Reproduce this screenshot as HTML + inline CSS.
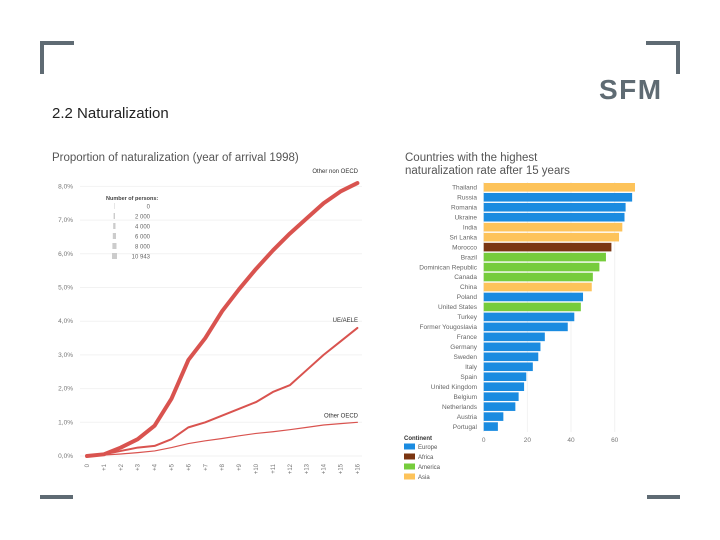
<!DOCTYPE html>
<html><head><meta charset="utf-8"><style>
body{margin:0;background:#fff;font-family:"Liberation Sans",sans-serif}
#w{position:relative;width:720px;height:540px;overflow:hidden}
.b{position:absolute;background:#5f6b73}
</style></head><body><div id="w">
<div class="b" style="left:40px;top:41px;width:34px;height:4px"></div>
<div class="b" style="left:40px;top:41px;width:4px;height:33px"></div>
<div class="b" style="left:646px;top:41px;width:34px;height:4px"></div>
<div class="b" style="left:676px;top:41px;width:4px;height:33px"></div>
<div class="b" style="left:40px;top:495px;width:33px;height:4px"></div>
<div class="b" style="left:647px;top:495px;width:33px;height:4px"></div>
<div style="position:absolute;left:599px;top:74px;font-size:28px;font-weight:bold;color:#5f6b73;letter-spacing:1.5px">SFM</div>
<div style="position:absolute;left:52px;top:105px;font-size:15px;color:#222">2.2 Naturalization</div>
<svg id="s" width="720" height="540" style="position:absolute;left:0;top:0"></svg>
</div>
<script>
const xLabels=["0","+1","+2","+3","+4","+5","+6","+7","+8","+9","+10","+11","+12","+13","+14","+15","+16"];
const nonOecd=[0,0.05,0.25,0.5,0.9,1.7,2.85,3.5,4.3,4.95,5.55,6.1,6.6,7.05,7.5,7.85,8.1];
const ueAele=[0,0.05,0.15,0.25,0.3,0.5,0.85,1.0,1.2,1.4,1.6,1.9,2.1,2.55,3.0,3.4,3.8];
const oecd=[0,0.03,0.06,0.1,0.15,0.25,0.37,0.45,0.52,0.6,0.67,0.72,0.78,0.85,0.92,0.96,1.0];
const yTicks=[0,1,2,3,4,5,6,7,8];
const countries=["Thailand","Russia","Romania","Ukraine","India","Sri Lanka","Morocco","Brazil","Dominican Republic","Canada","China","Poland","United States","Turkey","Former Yougoslavia","France","Germany","Sweden","Italy","Spain","United Kingdom","Belgium","Netherlands","Austria","Portugal"];
const rates=[69.3,68,65,64.5,63.5,62,58.5,56,53,50,49.5,45.5,44.5,41.5,38.5,28,26,25,22.5,19.5,18.5,16,14.5,9,6.5];
const continents=["Asia","Europe","Europe","Europe","Asia","Asia","Africa","America","America","America","Asia","Europe","America","Europe","Europe","Europe","Europe","Europe","Europe","Europe","Europe","Europe","Europe","Europe","Europe"];
const xTicks2=[0,20,40,60];
const contNames=["Europe","Africa","America","Asia"];
const contColors={Europe:"#1a8be0",Africa:"#7a3511",America:"#76cc3c",Asia:"#fdc35a"};
const NS="http://www.w3.org/2000/svg",s=document.getElementById('s');
function el(t,a,txt){const e=document.createElementNS(NS,t);for(const k in a)e.setAttribute(k,a[k]);if(txt!=null)e.textContent=txt;s.appendChild(e);return e;}
const xL=i=>87+i*16.9, yL=v=>456-v*33.7;
let t=el('text',{x:52,y:161,'font-size':11.5,fill:'#555'},'Proportion of naturalization (year of arrival 1998)');

yTicks.forEach(v=>{
 let g=el('line',{x1:80,x2:362,y1:yL(v),y2:yL(v),stroke:'#f2f2f2'});
 
 let l=el('text',{x:73,y:yL(v)+2,'font-size':6.5,fill:'#777','text-anchor':'end'},v.toFixed(1).replace('.',',')+'%');
 
});
xLabels.forEach((lb,i)=>{
 let l=el('text',{x:0,y:0,'font-size':6,fill:'#777','text-anchor':'end',transform:`translate(${xL(i)+2},464) rotate(-90)`},lb);
 
});
function line(d,w,name){const p=el('path',{d:d.map((v,i)=>(i?'L':'M')+xL(i)+','+yL(v)).join(''),fill:'none',stroke:'#d9534f','stroke-width':w,'stroke-linejoin':'round','stroke-linecap':'round'});
 }
line(oecd,1.2,'line-other-oecd');line(ueAele,2,'line-ue-aele');line(nonOecd,4,'line-other-non-oecd');
[['Other non OECD',nonOecd,-10],['UE/AELE',ueAele,-6],['Other OECD',oecd,-5]].forEach(([n,d,o])=>{
 let l=el('text',{x:358,y:yL(d[16])+o,'font-size':6,fill:'#333','text-anchor':'end'},n);
 
});
let lt=el('text',{x:106,y:200,'font-size':5.5,fill:'#444','font-weight':'bold'},'Number of persons:');

["0","2 000","4 000","6 000","8 000","10 943"].forEach((n,i)=>{
 let r=el('rect',{x:114-i*0.4,y:203+i*10,width:0.5+i*0.9,height:6,fill:'#ccc'});
 
 let l=el('text',{x:150,y:208.5+i*10,'font-size':6,fill:'#666','text-anchor':'end'},n);
 
});
const xR=v=>483.7+v*2.183, yR=i=>187.3+i*9.97;
[['Countries with the highest',161],['naturalization rate after 15 years',174]].forEach(([a,y])=>{
 let l=el('text',{x:405,y:y,'font-size':11.5,fill:'#555'},a);});
xTicks2.forEach(v=>{
 let g=el('line',{x1:xR(v),x2:xR(v),y1:182,y2:432,stroke:'#f2f2f2'});
 let l=el('text',{x:xR(v),y:442,'font-size':6.5,fill:'#777','text-anchor':'middle'},v);
});
countries.forEach((c,i)=>{
 let r=el('rect',{x:xR(0),y:yR(i)-4.3,width:xR(rates[i])-xR(0),height:8.6,fill:contColors[continents[i]]});
 
 let l=el('text',{x:477,y:yR(i)+2.2,'font-size':6.5,fill:'#666','text-anchor':'end'},c);
 
});
let ct=el('text',{x:404,y:440,'font-size':6,fill:'#333','font-weight':'bold'},'Continent');

contNames.forEach((n,i)=>{
 let r=el('rect',{x:404,y:443.5+i*10,width:11,height:6,fill:contColors[n]});
 let l=el('text',{x:418,y:449+i*10,'font-size':6,fill:'#555'},n);
});
</script></body></html>
